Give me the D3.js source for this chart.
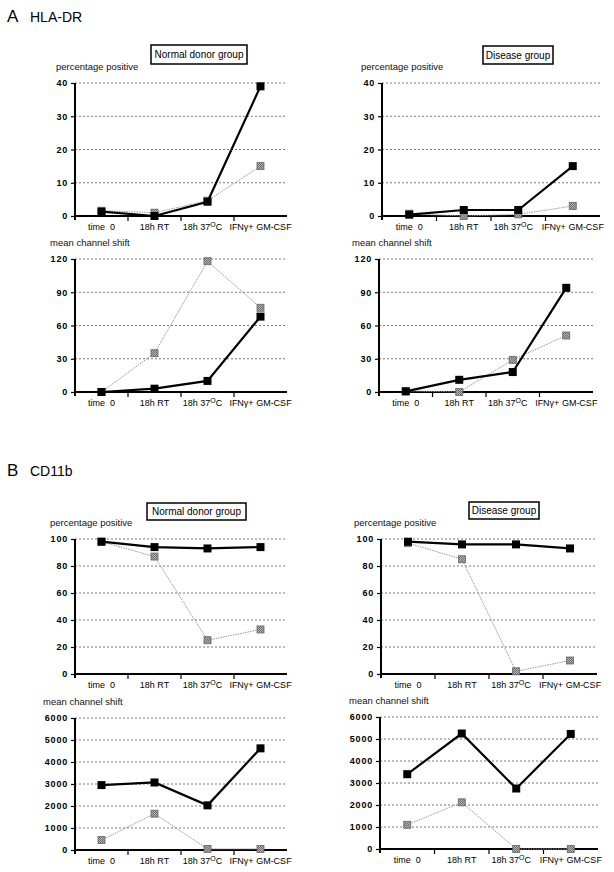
<!DOCTYPE html>
<html lang="en">
    <head>
        <meta charset="utf-8">
        <title>HLA-DR / CD11b</title>
        <script type="text/javascript" src="https://d3js.org/d3.v7.min.js"></script>
        <style type="text/css">
          body { margin: 0; background: white; }
          text { font-family: "Liberation Sans", Arial, sans-serif; }
        </style>
    </head>
    <body>
        <script type="text/javascript">
        var w = 614;
        var h = 872;

        // categories on the x axis
        var categories = ["time  0", "18h RT", "18h 37", "IFNγ+ GM-CSF"];

        // HLA-DR, percentage positive
        var hlaNormPctBlack = [1.3, 0, 4.3, 39];
        var hlaNormPctGray  = [1.6, 1.0, 4.6, 15];
        var hlaDisPctBlack  = [0.4, 1.8, 1.8, 15];
        var hlaDisPctGray   = [0.7, 0, 0.5, 3];
        // HLA-DR, mean channel shift
        var hlaNormMcsBlack = [0, 3, 10, 68];
        var hlaNormMcsGray  = [0, 35, 118, 76];
        var hlaDisMcsBlack  = [0.5, 11, 18, 94];
        var hlaDisMcsGray   = [1, 0, 29, 51];
        // CD11b, percentage positive
        var cdNormPctBlack = [98, 94, 93, 94];
        var cdNormPctGray  = [98, 87, 25, 33];
        var cdDisPctBlack  = [98, 96, 96, 93];
        var cdDisPctGray   = [97, 85, 2, 10];
        // CD11b, mean channel shift
        var cdNormMcsBlack = [2950, 3070, 2030, 4620];
        var cdNormMcsGray  = [450, 1650, 50, 50];
        var cdDisMcsBlack  = [3400, 5250, 2750, 5230];
        var cdDisMcsGray   = [1100, 2120, 0, 0];

        // tick values
        var ticksPct40 = [0, 10, 20, 30, 40];
        var ticksMcs120 = [0, 30, 60, 90, 120];
        var ticksPct100 = [0, 20, 40, 60, 80, 100];
        var ticksMcs6000 = [0, 1000, 2000, 3000, 4000, 5000, 6000];

        var svg = d3.select("body").append("svg")
                    .attr("width", w)
                    .attr("height", h);

        // section headers
        var headers = [["A", "HLA-DR", 22], ["B", "CD11b", 476]];
        headers.forEach(function(d){
          svg.append("text").attr("x", 7).attr("y", d[2])
             .attr("font-size", "17px").text(d[0]);
          svg.append("text").attr("x", 30).attr("y", d[2])
             .attr("font-size", "14px").text(d[1]);
        });

        var panels = [
          {l: 75, r: 287, t: 83, b: 216, ticks: ticksPct40, black: hlaNormPctBlack, gray: hlaNormPctGray,
           label: "percentage positive", lx: 56, title: "Normal donor group", box: [151, 45, 96, 19]},
          {l: 382, r: 600, t: 83, b: 216, ticks: ticksPct40, black: hlaDisPctBlack, gray: hlaDisPctGray,
           label: "percentage positive", lx: 361, title: "Disease group", box: [483, 46, 70, 18]},
          {l: 75, r: 287, t: 259, b: 392, ticks: ticksMcs120, black: hlaNormMcsBlack, gray: hlaNormMcsGray,
           label: "mean channel shift", lx: 50},
          {l: 379, r: 593, t: 259, b: 392, ticks: ticksMcs120, black: hlaDisMcsBlack, gray: hlaDisMcsGray,
           label: "mean channel shift", lx: 352},
          {l: 75, r: 287, t: 539, b: 674, ticks: ticksPct100, black: cdNormPctBlack, gray: cdNormPctGray,
           label: "percentage positive", lx: 50, title: "Normal donor group", box: [147, 503, 99, 17]},
          {l: 381, r: 597, t: 539, b: 674, ticks: ticksPct100, black: cdDisPctBlack, gray: cdDisPctGray,
           label: "percentage positive", lx: 354, title: "Disease group", box: [469, 502, 70, 17]},
          {l: 75, r: 287, t: 718, b: 850, ticks: ticksMcs6000, black: cdNormMcsBlack, gray: cdNormMcsGray,
           label: "mean channel shift", lx: 43},
          {l: 380, r: 598, t: 717, b: 849, ticks: ticksMcs6000, black: cdDisMcsBlack, gray: cdDisMcsGray,
           label: "mean channel shift", lx: 349}
        ];

        var drawPanel = function(p){
          var g = svg.append("g");
          var x = d3.scaleBand().domain(categories).range([p.l, p.r]);
          var y = d3.scaleLinear().domain([0, d3.max(p.ticks)]).range([p.b, p.t]);

          // dotted gridlines
          g.selectAll("line.grid")
            .data(p.ticks.slice(1))
            .enter()
            .append("line")
              .attr("x1", p.l).attr("x2", p.r)
              .attr("y1", function(d){ return y(d); })
              .attr("y2", function(d){ return y(d); })
              .attr("stroke", "#555")
              .attr("stroke-width", 0.8)
              .attr("stroke-dasharray", "2,2");

          // y axis
          var ya = g.append("g")
            .attr("transform", "translate(" + p.l + ",0)")
            .call(d3.axisLeft(y).tickValues(p.ticks).tickFormat(d3.format("d")).tickSize(4).tickPadding(3));
          ya.select(".domain").attr("stroke-width", 2).attr("d", "M0," + (p.b + 4) + "V" + p.t);
          ya.selectAll(".tick line").attr("stroke-width", 1.2);
          ya.selectAll(".tick text")
            .attr("font-family", "'Liberation Sans', Arial, sans-serif")
            .attr("font-size", "9px")
            .attr("font-weight", "bold")
            .attr("letter-spacing", "0.8px")
            .attr("fill", "#000");

          // x axis: ticks between categories
          g.append("line")
            .attr("x1", p.l).attr("x2", p.r)
            .attr("y1", p.b).attr("y2", p.b)
            .attr("stroke", "#000").attr("stroke-width", 2);
          g.selectAll("line.xt")
            .data(categories.slice(1))
            .enter()
            .append("line")
              .attr("x1", function(d){ return x(d); })
              .attr("x2", function(d){ return x(d); })
              .attr("y1", p.b).attr("y2", p.b + 5)
              .attr("stroke", "#000").attr("stroke-width", 1.2);

          var xl = g.selectAll("text.cat")
            .data(categories)
            .enter()
            .append("text")
              .attr("x", function(d){ return x(d) + x.bandwidth() / 2; })
              .attr("y", p.b + 14)
              .attr("text-anchor", "middle")
              .attr("font-size", "9px")
              .attr("fill", "#000")
              .style("white-space", "pre")
              .text(function(d){ return d; });
          // superscript degree for 37 oC
          xl.filter(function(d){ return d === "18h 37"; })
            .attr("dx", -5)
            .each(function(){
              var t = d3.select(this);
              t.append("tspan").attr("dy", -3).attr("font-size", "7px").text("O");
              t.append("tspan").attr("dy", 3).text("C");
            });

          // y label
          g.append("text")
            .attr("x", p.lx).attr("y", p.t - 13)
            .attr("font-size", "9.5px")
            .attr("fill", "#111")
            .text(p.label);

          if(p.title){
            g.append("rect")
              .attr("x", p.box[0]).attr("y", p.box[1])
              .attr("width", p.box[2]).attr("height", p.box[3])
              .attr("fill", "white").attr("stroke", "#000").attr("stroke-width", 1.5);
            g.append("text")
              .attr("x", p.box[0] + p.box[2] / 2).attr("y", p.box[1] + p.box[3] / 2 + 3.5)
              .attr("text-anchor", "middle")
              .attr("font-size", "10px")
              .text(p.title);
          }

          var line = d3.line()
            .x(function(d, i){ return x(categories[i]) + x.bandwidth() / 2; })
            .y(function(d){ return y(d); });

          // gray series
          g.append("path").datum(p.gray)
            .attr("fill", "none").attr("stroke", "#999")
            .attr("stroke-width", 1).attr("stroke-dasharray", "1.5,1")
            .attr("d", line);
          g.selectAll("rect.gm")
            .data(p.gray)
            .enter()
            .append("rect")
              .attr("x", function(d, i){ return x(categories[i]) + x.bandwidth() / 2 - 3.5; })
              .attr("y", function(d){ return y(d) - 3.5; })
              .attr("width", 7).attr("height", 7)
              .attr("fill", "url(#hatch)")
              .attr("stroke", "#666").attr("stroke-width", 0.8);

          // black series
          g.append("path").datum(p.black)
            .attr("fill", "none").attr("stroke", "#000")
            .attr("stroke-width", 2.2)
            .attr("d", line);
          g.selectAll("rect.bm")
            .data(p.black)
            .enter()
            .append("rect")
              .attr("x", function(d, i){ return x(categories[i]) + x.bandwidth() / 2 - 4; })
              .attr("y", function(d){ return y(d) - 4; })
              .attr("width", 8).attr("height", 8)
              .attr("fill", "#000");
        };

        // cross-hatch fill for gray markers
        var pat = svg.append("defs").append("pattern")
          .attr("id", "hatch").attr("patternUnits", "userSpaceOnUse")
          .attr("width", 2).attr("height", 2);
        pat.append("rect").attr("width", 2).attr("height", 2).attr("fill", "#b0b0b0");
        pat.append("rect").attr("width", 1).attr("height", 1).attr("fill", "#707070");
        pat.append("rect").attr("x", 1).attr("y", 1).attr("width", 1).attr("height", 1).attr("fill", "#707070");

        panels.forEach(drawPanel);
        </script>
    </body>
</html>
